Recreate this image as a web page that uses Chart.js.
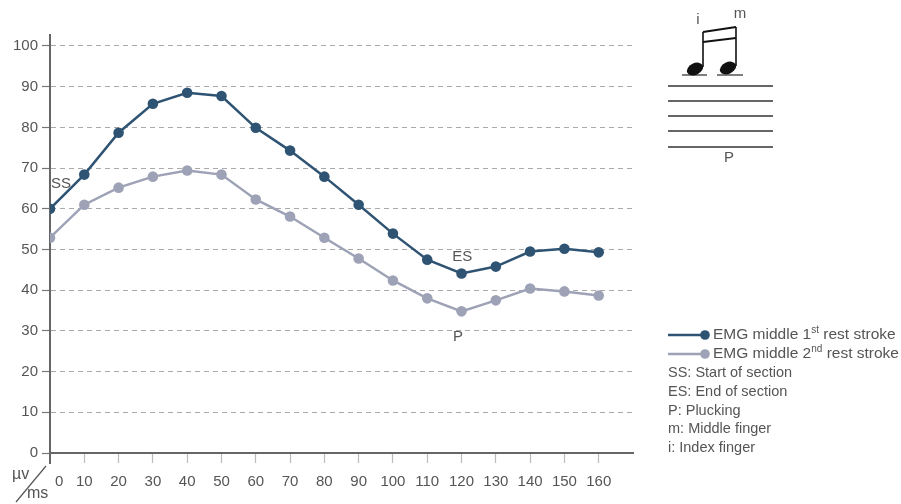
<!DOCTYPE html>
<html>
<head>
<meta charset="utf-8">
<script src="https://cdn.jsdelivr.net/npm/chart.js@4.4.0/dist/chart.umd.min.js"></script>
<style>
  html, body { margin: 0; padding: 0; background: #fff; }
  #emg { display: block; }
</style>
</head>
<body>
<canvas id="emg" width="901" height="504"></canvas>
<script>
// time axis (ms) and EMG amplitude (µV)
var times = [0, 10, 20, 30, 40, 50, 60, 70, 80, 90, 100, 110, 120, 130, 140, 150, 160];
var firstStroke = [60.0, 68.4, 78.7, 85.8, 88.5, 87.7, 79.9, 74.3, 67.9, 61.0, 53.9, 47.5, 44.1, 45.8, 49.5, 50.2, 49.3];
var secondStroke = [52.9, 61.0, 65.2, 67.9, 69.4, 68.4, 62.3, 58.1, 52.9, 47.8, 42.4, 38.0, 34.8, 37.5, 40.4, 39.7, 38.7];
var xTicks = [10, 20, 30, 40, 50, 60, 70, 80, 90, 100, 110, 120, 130, 140, 150, 160];
var yTicks = [0, 10, 20, 30, 40, 50, 60, 70, 80, 90, 100];
var legendNotes = ['SS: Start of section', 'ES: End of section', 'P: Plucking', 'm: Middle finger', 'i: Index finger'];

var dark = '#2f5373';
var light = '#9ea2b6';
var textColor = '#555';
var font = '"Liberation Sans", Arial, sans-serif';

function toPoints(values) {
  var pts = [];
  for (var i = 0; i < times.length; i++) {
    pts.push({ x: times[i], y: values[i] });
  }
  return pts;
}

function drawSup(ctx, x, y, base, sup, rest) {
  ctx.font = '15.5px ' + font;
  ctx.fillText(base, x, y);
  x += ctx.measureText(base).width;
  ctx.font = '10px ' + font;
  ctx.fillText(sup, x, y - 5);
  x += ctx.measureText(sup).width;
  ctx.font = '15.5px ' + font;
  ctx.fillText(rest, x, y);
}

function drawNote(ctx, cx, cy) {
  ctx.save();
  ctx.translate(cx, cy);
  ctx.rotate(-0.45);
  ctx.beginPath();
  ctx.ellipse(0, 0, 8.5, 5.8, 0, 0, Math.PI * 2);
  ctx.fill();
  ctx.restore();
}

var extras = {
  id: 'extras',
  afterDraw: function(chart) {
    var ctx = chart.ctx;
    var xs = chart.scales.x;
    var ys = chart.scales.y;
    var left = chart.chartArea.left;
    var bottom = chart.chartArea.bottom;

    ctx.save();
    // axis line runs a bit past the origin
    ctx.strokeStyle = '#666';
    ctx.lineWidth = 2;
    ctx.beginPath();
    ctx.moveTo(left, bottom);
    ctx.lineTo(left, bottom + 11);
    ctx.stroke();

    // unit label and the 0 tick
    ctx.fillStyle = textColor;
    ctx.textBaseline = 'middle';
    ctx.textAlign = 'left';
    ctx.font = '15px ' + font;
    ctx.fillText('0', 55, 482);
    ctx.font = '16px ' + font;
    ctx.fillText('µv', 12, 475);
    ctx.fillText('ms', 27, 494);
    ctx.strokeStyle = textColor;
    ctx.lineWidth = 1.2;
    ctx.beginPath();
    ctx.moveTo(46, 466);
    ctx.lineTo(16, 502);
    ctx.stroke();

    // section marks
    ctx.font = '15px ' + font;
    ctx.fillText('SS', xs.getPixelForValue(0) + 1, ys.getPixelForValue(66.2));
    ctx.fillText('ES', xs.getPixelForValue(117.3), ys.getPixelForValue(48.3));
    ctx.fillText('P', xs.getPixelForValue(117.5), ys.getPixelForValue(28.6));

    // legend
    var lx = 668;
    var rows = [335, 354];
    var cols = [dark, light];
    for (var i = 0; i < 2; i++) {
      ctx.strokeStyle = cols[i];
      ctx.fillStyle = cols[i];
      ctx.lineWidth = 2.5;
      ctx.beginPath();
      ctx.moveTo(lx, rows[i]);
      ctx.lineTo(lx + 38, rows[i]);
      ctx.stroke();
      ctx.beginPath();
      ctx.arc(lx + 37, rows[i], 4.8, 0, Math.PI * 2);
      ctx.fill();
    }
    ctx.fillStyle = textColor;
    drawSup(ctx, 713, rows[0], 'EMG middle 1', 'st', ' rest stroke');
    drawSup(ctx, 713, rows[1], 'EMG middle 2', 'nd', ' rest stroke');
    ctx.font = '14.5px ' + font;
    for (var j = 0; j < legendNotes.length; j++) {
      ctx.fillText(legendNotes[j], lx, 373 + j * 18.8);
    }

    // staff with the i-m note pair
    ctx.strokeStyle = '#333';
    ctx.lineWidth = 1.3;
    var staff = [86, 101, 116, 131, 147];
    for (var k = 0; k < staff.length; k++) {
      ctx.beginPath();
      ctx.moveTo(668, staff[k]);
      ctx.lineTo(773, staff[k]);
      ctx.stroke();
    }
    ctx.strokeStyle = '#555';
    ctx.beginPath();
    ctx.moveTo(682, 75); ctx.lineTo(707, 75);
    ctx.moveTo(717, 75); ctx.lineTo(743, 75);
    ctx.stroke();
    ctx.fillStyle = '#111';
    drawNote(ctx, 695, 69);
    drawNote(ctx, 728, 68);
    ctx.strokeStyle = '#111';
    ctx.lineWidth = 1.6;
    ctx.beginPath();
    ctx.moveTo(703, 67); ctx.lineTo(703, 32);
    ctx.moveTo(736, 66); ctx.lineTo(736, 27);
    ctx.stroke();
    ctx.lineWidth = 2;
    ctx.beginPath();
    ctx.moveTo(703, 32); ctx.lineTo(736, 27);
    ctx.moveTo(703, 42); ctx.lineTo(736, 38);
    ctx.stroke();
    ctx.fillStyle = textColor;
    ctx.textAlign = 'center';
    ctx.font = '15px ' + font;
    ctx.fillText('i', 698, 20);
    ctx.fillText('m', 740, 14);
    ctx.fillText('P', 729, 158);
    ctx.restore();
  }
};

var ctx = document.getElementById('emg').getContext('2d');
new Chart(ctx, {
  type: 'line',
  data: {
    datasets: [{
      label: 'EMG middle 1st rest stroke',
      data: toPoints(firstStroke),
      borderColor: dark,
      backgroundColor: dark,
      borderWidth: 2.5,
      pointRadius: 5.3,
      pointBorderWidth: 0,
      tension: 0
    }, {
      label: 'EMG middle 2nd rest stroke',
      data: toPoints(secondStroke),
      borderColor: light,
      backgroundColor: light,
      borderWidth: 2.5,
      pointRadius: 5.3,
      pointBorderWidth: 0,
      tension: 0
    }]
  },
  options: {
    responsive: false,
    animation: false,
    layout: { padding: { left: 0, top: 35, right: 268, bottom: 0 } },
    plugins: { legend: { display: false }, tooltip: { enabled: false } },
    scales: {
      x: {
        type: 'linear',
        min: 0,
        max: 170,
        afterBuildTicks: function(scale) {
          scale.ticks = xTicks.map(function(v) { return { value: v }; });
        },
        afterFit: function(scale) { scale.height = 51; },
        border: { color: '#666', width: 2 },
        grid: {
          drawOnChartArea: false,
          drawTicks: true,
          tickLength: 10,
          tickColor: '#bbb',
          tickWidth: 1.2
        },
        ticks: {
          color: textColor,
          font: { family: font, size: 15 },
          padding: 10,
          maxRotation: 0,
          autoSkip: false
        }
      },
      y: {
        min: 0,
        max: 102.7,
        afterBuildTicks: function(scale) {
          scale.ticks = yTicks.map(function(v) { return { value: v }; });
        },
        afterFit: function(scale) { scale.width = 50; },
        border: { color: '#666', width: 2, dash: [5, 4] },
        grid: {
          color: function(c) { return c.tick && c.tick.value === 0 ? 'rgba(0,0,0,0)' : '#aaa'; },
          lineWidth: 1,
          tickLength: 8,
          tickColor: '#777',
          tickBorderDash: [],
          tickWidth: 1.2
        },
        ticks: {
          color: textColor,
          font: { family: font, size: 15 },
          padding: 4
        }
      }
    }
  },
  plugins: [extras]
});
</script>
</body>
</html>
